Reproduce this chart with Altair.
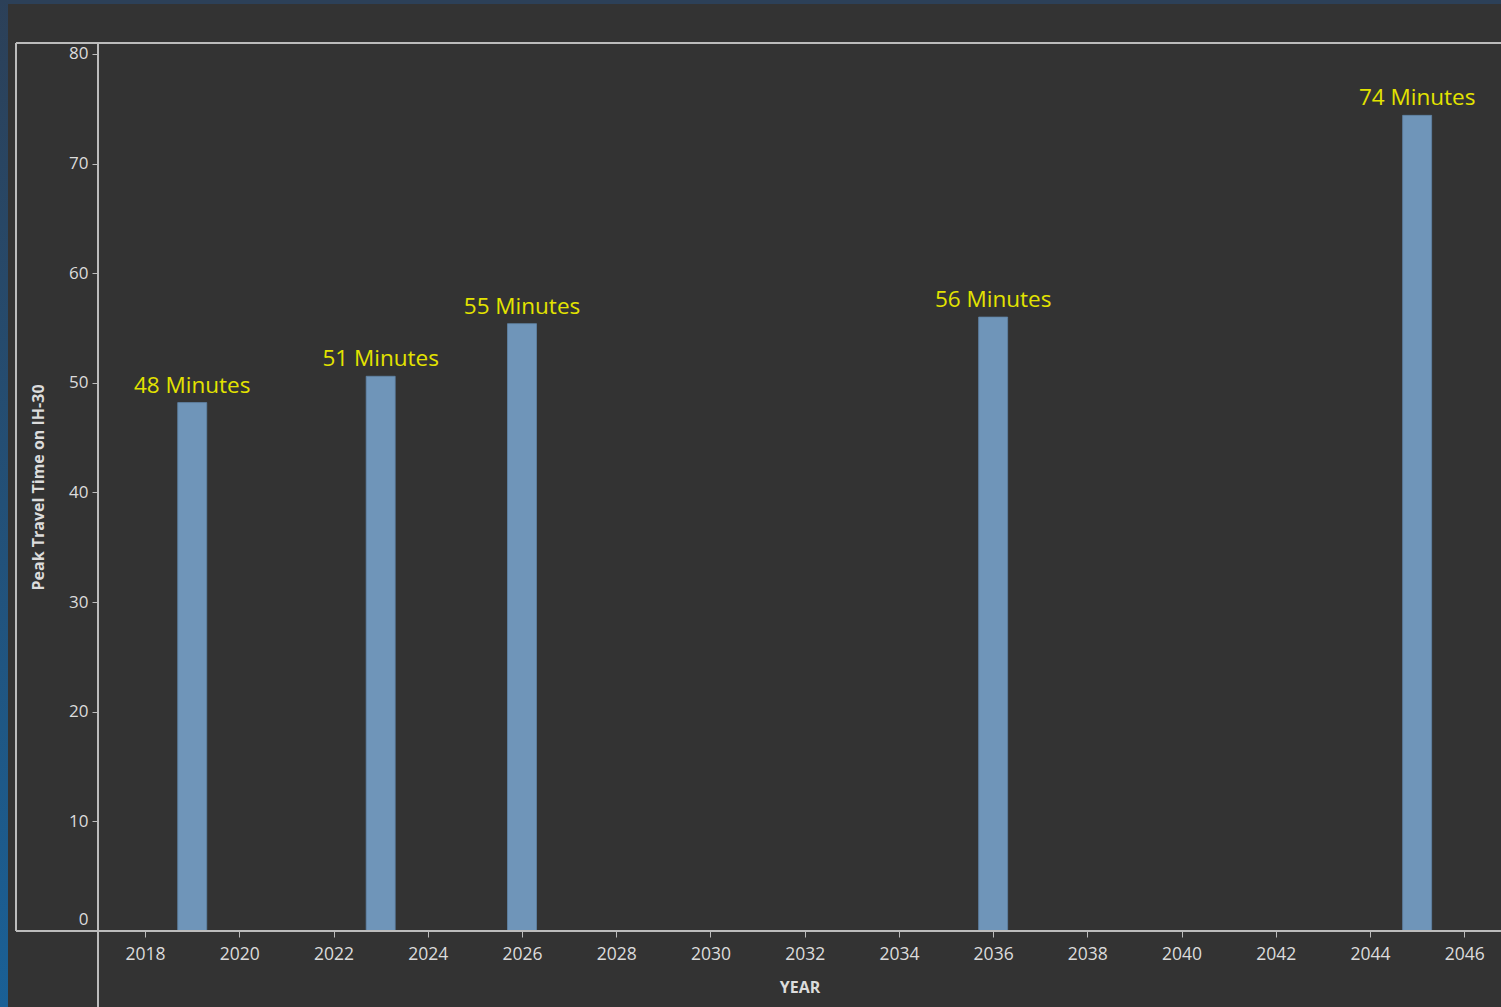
import altair as alt
import pandas as pd

# Peak travel time on IH-30 by year
years = [2019, 2023, 2026, 2036, 2045]
minutes = [48.2, 50.6, 55.4, 56.0, 74.4]
tick_years = list(range(2018, 2047, 2))
y_ticks = list(range(0, 81, 10))

df = pd.DataFrame({"YEAR": years, "Minutes": minutes})

W, H = 1403, 888
BG = "#333333"
LINE = "#bcbcbc"
TXT = "#dcdcdc"
FONT = "Open Sans"

x_scale = alt.Scale(domain=[2017, 2046.78], nice=False, zero=False, padding=0)
y_scale = alt.Scale(domain=[0, 81], nice=False)

base = alt.Chart(df)

bars = base.mark_bar(size=29, color="#6f95b9", stroke="#5f84a6", strokeWidth=0.8).encode(
    x=alt.X(
        "YEAR:Q",
        scale=x_scale,
        axis=alt.Axis(
            title="YEAR",
            values=tick_years,
            format="d",
            grid=False,
            domain=False,
            tickColor=LINE,
            tickSize=6,
            labelColor=TXT,
            labelFont=FONT,
            labelFontSize=17.5,
            labelPadding=8,
            titleColor=TXT,
            titleFont=FONT,
            titleFontSize=16,
            titleFontWeight="bold",
            titlePadding=17,
        ),
    ),
    y=alt.Y(
        "Minutes:Q",
        scale=y_scale,
        axis=alt.Axis(
            title="Peak Travel Time on IH-30",
            values=y_ticks,
            grid=False,
            domain=False,
            tickColor=LINE,
            tickSize=6,
            labelColor=TXT,
            labelFont=FONT,
            labelFontSize=17,
            labelPadding=4,
            labelFlush=True,
            labelFlushOffset=-3,
            titleColor=TXT,
            titleFont=FONT,
            titleFontSize=16,
            titleFontWeight="bold",
            titlePadding=22,
        ),
    ),
)

labels = base.mark_text(
    color="#e3e300", font=FONT, fontSize=22.5, baseline="bottom", dy=-5
).encode(
    x=alt.X("YEAR:Q", scale=x_scale),
    y=alt.Y("Minutes:Q", scale=y_scale),
    text=alt.Text("label:N"),
).transform_calculate(label="format(datum.Minutes, '.0f') + ' Minutes'")

# page chrome: blue edge strips
left_strip = alt.Chart(df).mark_rect(
    fill=alt.Gradient(
        gradient="linear",
        stops=[
            alt.GradientStop(color="#2c4058", offset=0),
            alt.GradientStop(color="#1a6096", offset=1),
        ],
        x1=0, x2=0, y1=0, y2=1,
    ),
    clip=False,
).encode(x=alt.value(-98), x2=alt.value(-90), y=alt.value(-43), y2=alt.value(964))

top_strip = alt.Chart(df).mark_rect(color="#2c4058", clip=False).encode(
    x=alt.value(-90), x2=alt.value(W), y=alt.value(-43), y2=alt.value(-39)
)

# frame lines around the axis panes
rule_style = dict(color=LINE, strokeWidth=1.5, clip=False)
frame_top = alt.Chart(df).mark_rule(**rule_style).encode(
    x=alt.value(-82), x2=alt.value(W), y=alt.value(0)
)
frame_bottom = alt.Chart(df).mark_rule(**rule_style).encode(
    x=alt.value(-82), x2=alt.value(W), y=alt.value(H)
)
frame_left = alt.Chart(df).mark_rule(**rule_style).encode(
    x=alt.value(-82), y=alt.value(0), y2=alt.value(H)
)
frame_divider = alt.Chart(df).mark_rule(**rule_style).encode(
    x=alt.value(0), y=alt.value(0), y2=alt.value(964)
)

chart = (
    alt.layer(
        left_strip, top_strip, bars, labels,
        frame_top, frame_bottom, frame_left, frame_divider,
    )
    .properties(
        width=W,
        height=H,
        background=BG,
        padding={"left": 98, "top": 43, "right": 0, "bottom": 76},
        autosize=alt.AutoSizeParams(type="none"),
    )
    .configure_view(stroke=None)
)

chart.save("out.html", embed_options={"renderer": "svg", "actions": False})
